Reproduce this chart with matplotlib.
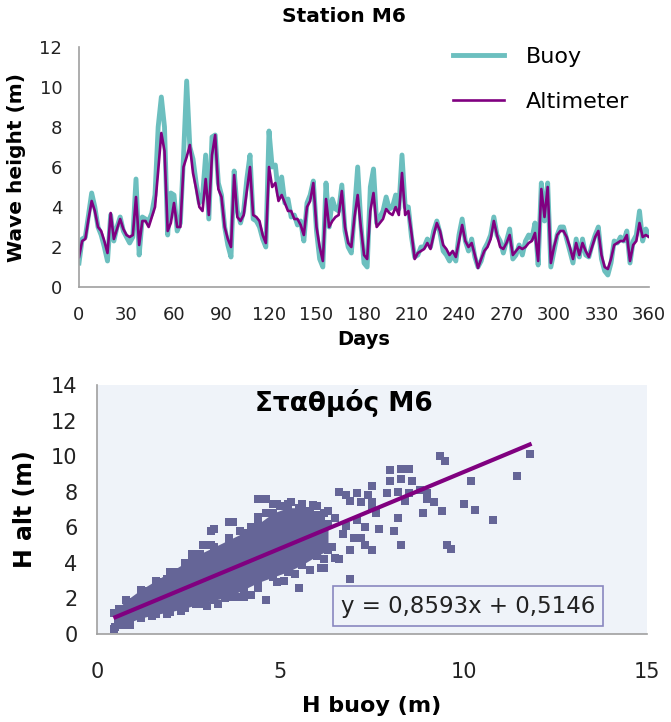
import matplotlib
matplotlib.use('Agg')
import matplotlib.pyplot as plt

# Time series, every 2 days (wave height in m)
days = list(range(0, 361, 2))
altimeter = [1.5, 2.3, 2.4, 3.4, 4.3, 3.8, 3.0, 2.8, 2.3, 1.7,
             3.7, 2.4, 2.9, 3.4, 2.9, 2.6, 2.5, 2.6, 4.5, 2.1,
             3.3, 3.3, 3.0, 3.5, 4.0, 5.8, 7.7, 6.8, 2.8, 3.2,
             4.2, 3.0, 3.0, 6.0, 6.5, 7.1, 5.7, 4.9, 4.0, 3.8,
             5.4, 3.6, 6.6, 7.6, 4.9, 4.5, 3.0, 2.4, 2.0, 5.6,
             3.5, 3.3, 3.6, 4.8, 6.0, 3.6, 3.5, 3.3, 2.6, 2.2,
             6.0, 5.0, 5.2, 4.3, 4.6, 4.2, 3.8, 3.8, 3.4, 3.4,
             3.1, 2.6, 4.0, 4.3, 5.2, 3.0, 2.0, 1.3, 4.4, 3.0,
             3.3, 3.5, 3.6, 4.8, 3.0, 2.2, 2.0, 3.5, 4.6, 3.0,
             1.6, 1.4, 3.8, 4.7, 3.0, 3.2, 3.4, 3.9, 3.7, 3.6,
             4.0, 3.6, 5.7, 3.6, 3.8, 2.7, 1.4, 1.7, 1.8, 1.9,
             2.2, 1.9, 2.6, 3.2, 2.8, 2.1, 1.9, 1.6, 1.8, 1.5,
             2.3, 3.1, 2.3, 2.0, 2.2, 1.6, 0.95, 1.4, 1.8, 2.0,
             2.4, 3.3, 2.6, 2.0, 1.9, 2.2, 2.6, 1.6, 1.8, 2.0,
             1.9, 2.0, 2.2, 2.3, 2.7, 1.3, 4.9, 3.5, 5.0, 1.2,
             2.0, 2.6, 2.8, 2.8, 2.5, 2.0, 1.4, 2.2, 1.6, 2.2,
             1.8, 1.5, 2.0, 2.5, 2.8, 1.6, 1.0, 0.9, 1.4, 2.1,
             2.2, 2.3, 2.3, 2.6, 1.3, 2.1, 2.3, 3.2, 2.5, 2.6,
             2.5]
buoy = [1.2, 2.4, 2.5, 3.6, 4.7, 4.0, 3.0, 2.6, 2.0, 1.3,
        3.6, 2.3, 3.0, 3.5, 2.8, 2.5, 2.2, 2.5, 5.4, 1.6,
        3.5, 3.4, 3.3, 3.7, 4.6, 8.0, 9.5, 8.0, 2.6, 4.7,
        4.6, 2.8, 3.2, 6.5, 10.3, 7.0, 6.4, 5.2, 4.2, 4.5,
        6.6, 3.4, 7.5, 7.6, 5.2, 4.6, 3.0, 2.1, 1.5, 5.8,
        3.8, 3.2, 3.8, 5.4, 6.6, 3.4, 3.3, 3.0, 2.4, 2.0,
        7.8, 6.0, 6.1, 4.6, 5.5, 4.2, 4.4, 3.5, 3.6, 3.1,
        3.3, 2.3, 4.2, 4.6, 5.3, 2.8, 1.4, 1.0, 5.2, 3.0,
        4.4, 3.9, 3.8, 5.1, 2.8, 2.0, 1.7, 3.8, 6.0, 3.2,
        1.2, 1.0, 5.0, 5.9, 3.2, 3.5, 3.8, 4.5, 3.9, 4.0,
        4.6, 3.9, 6.6, 4.0, 4.0, 2.5, 1.5, 1.6, 2.0, 2.0,
        2.4, 2.0, 2.8, 3.3, 2.7, 1.8, 1.6, 1.3, 1.6, 1.3,
        2.6, 3.4, 2.3, 1.8, 2.4, 1.5, 1.0, 1.3, 1.9, 2.2,
        2.6, 3.5, 2.6, 2.3, 1.7, 2.3, 2.9, 1.4, 1.6, 2.1,
        1.6, 2.3, 2.6, 2.4, 3.2, 1.1, 5.2, 3.3, 5.2, 1.0,
        1.8, 2.6, 3.0, 3.0, 2.4, 1.8, 1.2, 2.4, 1.5, 2.4,
        1.6, 1.5, 2.1, 2.6, 3.0, 1.4, 0.8, 0.6, 1.2, 2.3,
        2.2, 2.5, 2.3, 2.8, 1.2, 2.3, 2.6, 3.8, 2.3, 2.9,
        2.6]

# Scatter: dense core envelope
blob_x = [0.45, 0.8, 1.2, 1.6, 2.0, 2.4, 2.8, 3.2, 3.6, 4.0, 4.4, 4.8, 5.2, 5.6, 6.0, 6.3]
blob_hi = [1.2, 1.9, 2.5, 3.0, 3.5, 4.0, 4.5, 4.9, 5.3, 5.7, 6.2, 6.8, 7.1, 7.1, 6.7, 6.2]
blob_lo = [0.3, 0.6, 0.9, 1.1, 1.25, 1.45, 1.7, 1.9, 2.1, 2.5, 2.9, 3.2, 3.5, 3.9, 4.4, 4.7]

# Scatter: individual points (edges of the cloud and outliers)
pts_buoy = [0.6, 0.9, 1.2, 1.4, 1.7, 1.9, 2.2, 2.4, 2.6, 2.8, 3.1, 3.2, 3.6, 3.7, 3.9,
            4.1, 4.2, 4.4, 4.6, 4.8, 5.0, 5.3, 5.5, 5.8, 6.0, 6.3, 6.1,
            0.5, 0.7, 0.9, 1.2, 1.5, 1.9, 2.3, 2.7, 3.0, 3.3, 3.5, 3.8, 4.0, 4.2,
            4.6, 4.4, 4.9, 5.1, 5.5, 5.4, 5.8, 6.1, 6.2, 6.5, 6.9,
            6.6, 6.8, 7.1, 7.2, 6.9, 7.5, 7.4, 7.6, 7.5, 7.3, 7.1, 6.8, 6.5, 6.7,
            7.0, 7.3, 7.2, 6.6, 6.4, 6.2, 7.5, 6.9, 7.5, 7.7, 8.2, 8.1, 8.3, 7.9,
            8.0, 8.3, 8.5, 8.3, 8.6, 8.2, 8.0, 8.4, 8.5, 8.8, 9.0, 9.0, 8.9, 9.2,
            9.4, 9.35, 9.5, 10.2, 10.0, 10.3, 10.8, 9.55, 9.65, 11.45, 11.8,
            4.4, 4.6, 4.9, 5.2, 5.6, 5.9, 6.2, 3.6, 3.1, 2.9, 2.6]
pts_alt = [1.4, 1.8, 2.3, 2.4, 2.9, 3.1, 3.5, 3.6, 4.3, 4.2, 5.0, 5.9, 5.4, 6.3, 5.8,
           5.5, 6.0, 6.6, 6.8, 7.3, 7.2, 7.4, 7.1, 6.9, 7.2, 6.9, 6.5,
           0.4, 0.5, 0.5, 0.9, 1.0, 1.1, 1.3, 1.7, 1.6, 1.7, 2.0, 2.1, 2.1, 2.2,
           1.9, 2.6, 2.9, 3.0, 2.6, 3.4, 3.6, 3.7, 4.2, 4.3, 3.1,
           8.0, 7.8, 7.9, 7.4, 7.5, 7.4, 7.8, 6.8, 7.2, 6.0, 6.4, 6.1, 6.5, 5.6,
           5.4, 5.0, 5.4, 4.2, 4.9, 3.7, 4.7, 4.7, 8.3, 5.9, 6.5, 5.8, 5.0, 7.9,
           9.2, 9.3, 9.3, 8.7, 8.6, 8.0, 8.6, 7.5, 7.9, 8.1, 7.9, 7.6, 6.8, 7.4,
           6.9, 10.0, 9.7, 8.6, 7.3, 7.0, 6.4, 5.0, 4.8, 8.9, 10.1,
           7.6, 7.6, 7.3, 7.3, 7.3, 7.25, 6.8, 6.3, 5.8, 5.0, 4.5]

# Linear fit shown on the chart
slope, intercept = 0.8593, 0.5146
fit_x = [0.5, 11.8]

teal = '#6cbfbf'
purple = '#800080'
dots = '#656597'
grey = '#a0a0a0'
panel_bg = '#eff3f9'

fig = plt.figure(figsize=(6.71, 7.22), dpi=100)

# ---- top panel: time series ----
ax1 = fig.add_axes([79 / 671, 1 - 287 / 722, 570 / 671, 240 / 722])
ax1.plot(days, buoy, color=teal, lw=3.5, label='Buoy')
ax1.plot(days, altimeter, color=purple, lw=1.9, label='Altimeter')
ax1.set_xlim(0, 360)
ax1.set_ylim(0, 12)
ax1.set_xticks(range(0, 361, 30))
ax1.set_yticks(range(0, 13, 2))
ax1.tick_params(length=0, labelsize=13, colors='#222222')
ax1.tick_params(axis='x', pad=14)
ax1.tick_params(axis='y', pad=12)
for s in ['top', 'right']:
    ax1.spines[s].set_visible(False)
for s in ['left', 'bottom']:
    ax1.spines[s].set_color(grey)
    ax1.spines[s].set_linewidth(1.2)
ax1.set_xlabel('Days', fontsize=14, fontweight='bold', labelpad=4)
ax1.set_ylabel('Wave height (m)', fontsize=14.5, fontweight='bold', labelpad=10)
ax1.legend(loc='upper left', bbox_to_anchor=(0.621, 1.083), frameon=False,
           fontsize=16, handlelength=2.3, handletextpad=1.0, labelspacing=1.13)
fig.text(344 / 671, 1 - 16 / 722, 'Station M6', ha='center', va='center',
         fontsize=14.5, fontweight='bold')

# ---- bottom panel: scatter ----
ax2 = fig.add_axes([97 / 671, 1 - 634 / 722, 550 / 671, 249 / 722])
ax2.set_facecolor(panel_bg)
ax2.fill_between(blob_x, blob_lo, blob_hi, color=dots, lw=0, zorder=2)
ax2.scatter(blob_x + pts_buoy, blob_lo + pts_alt, marker='s', s=26, color=dots,
            lw=0, zorder=2)
ax2.scatter(blob_x, blob_hi, marker='s', s=26, color=dots, lw=0, zorder=2)
ax2.plot(fit_x, [slope * v + intercept for v in fit_x], color=purple, lw=3, zorder=3)
ax2.set_xlim(0, 15)
ax2.set_ylim(0, 14)
ax2.set_xticks([0, 5, 10, 15])
ax2.set_yticks(range(0, 15, 2))
ax2.tick_params(length=0, labelsize=15, colors='#222222')
ax2.tick_params(axis='x', pad=20)
ax2.tick_params(axis='y', pad=14)
for s in ['top', 'right']:
    ax2.spines[s].set_visible(False)
for s in ['left', 'bottom']:
    ax2.spines[s].set_color(grey)
    ax2.spines[s].set_linewidth(1.2)
ax2.set_xlabel('H buoy (m)', fontsize=16, fontweight='bold', labelpad=10)
ax2.set_ylabel('H alt (m)', fontsize=17, fontweight='bold', labelpad=10)
ax2.text((344 - 97) / 550, (634 - 403) / 249, 'Σταθμός M6', transform=ax2.transAxes,
         ha='center', va='center', fontsize=19, fontweight='bold')
ax2.text((468 - 97) / 550, (634 - 606) / 249, 'y = 0,8593x + 0,5146',
         transform=ax2.transAxes, ha='center', va='center', fontsize=16.5,
         color='#222222',
         bbox=dict(boxstyle='square,pad=0.35', facecolor=panel_bg,
                   edgecolor='#8a88c0', lw=1.2), zorder=4)

fig.savefig('out.png', dpi=100)
